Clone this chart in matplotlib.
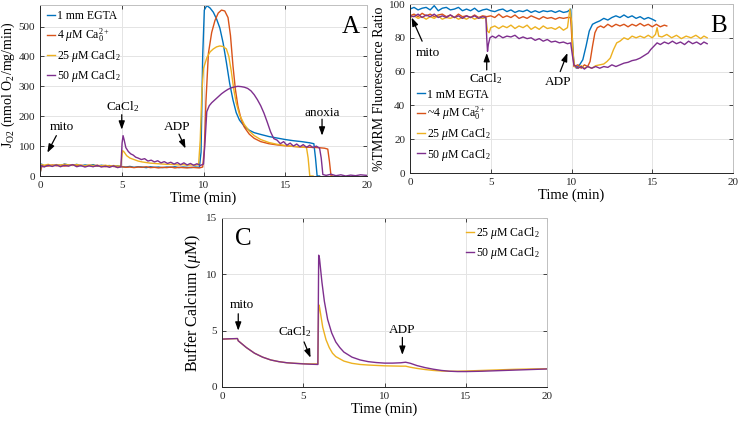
import matplotlib
matplotlib.use("Agg")
import matplotlib.pyplot as plt

plt.rcParams['font.family'] = ['Liberation Serif', 'DejaVu Serif']
plt.rcParams['mathtext.fontset'] = 'custom'
plt.rcParams['mathtext.rm'] = 'Liberation Serif'
plt.rcParams['mathtext.it'] = 'Liberation Serif:italic'

C_BLUE, C_RED, C_YEL, C_PUR = '#0072BD', '#D95319', '#EDB120', '#7E2F8E'

# ---------------- Panel A: J_O2 ----------------
A_egta = [(0,5),(0.1,40),(0.25,33),(0.5,36),(0.75,34),(1,38),(1.25,35),(1.5,40),(1.75,37),(2,36),(2.25,39),(2.5,34),(2.75,37),(3,35),(3.25,38),(3.5,33),(3.75,36),(4,34),(4.25,35),(4.5,32),(4.75,34),(5,31),(5.25,30),(5.5,32),(5.75,29),(6,31),(6.25,30),(6.5,28),(6.75,31),(7,29),(7.25,30),(7.5,28),(7.75,30),(8,29),(8.25,31),(8.5,28),(8.75,30),(9,29),(9.25,28),(9.5,30),(9.75,29),(9.85,80),(9.95,400),(10.05,555),(10.2,570),(10.4,562),(10.6,548),(10.8,525),(11.0,495),(11.2,445),(11.4,380),(11.6,310),(11.8,255),(12.0,212),(12.2,187),(12.5,166),(12.8,153),(13.1,145),(13.5,139),(14.0,132),(14.5,127),(15.0,122),(15.5,118),(16.0,115),(16.5,111),(16.75,108),(16.85,60),(16.95,0),(17.1,0)]
A_ca4 = [(0,10),(0.1,30),(0.25,35),(0.5,33),(0.75,37),(1,34),(1.25,36),(1.5,33),(1.75,35),(2,38),(2.25,34),(2.5,36),(2.75,33),(3,35),(3.25,32),(3.5,34),(3.75,33),(4,31),(4.25,34),(4.5,32),(4.75,30),(5,31),(5.25,29),(5.5,30),(5.75,28),(6,30),(6.25,29),(6.5,31),(6.75,28),(7,29),(7.25,27),(7.5,29),(7.75,28),(8,30),(8.25,27),(8.5,29),(8.75,28),(9,27),(9.25,29),(9.5,28),(9.75,27),(9.95,30),(10.05,90),(10.15,250),(10.3,410),(10.5,480),(10.7,520),(10.9,545),(11.1,555),(11.3,552),(11.5,530),(11.65,470),(11.8,370),(11.95,290),(12.1,235),(12.3,190),(12.5,163),(12.8,140),(13.1,126),(13.5,115),(14.0,108),(14.5,104),(15.0,101),(15.5,99),(16.0,97),(16.5,96),(17.0,95),(17.4,93),(17.6,90),(17.7,50),(17.8,0),(17.9,0)]
A_ca25 = [(0,15),(0.1,38),(0.25,36),(0.5,39),(0.75,35),(1,38),(1.25,36),(1.5,39),(1.75,37),(2,35),(2.25,38),(2.5,36),(2.75,34),(3,37),(3.25,35),(3.5,36),(3.75,34),(4,36),(4.25,33),(4.5,35),(4.75,33),(4.95,34),(5.05,85),(5.15,80),(5.3,68),(5.5,60),(5.75,55),(6,50),(6.25,47),(6.5,45),(6.75,43),(7,42),(7.25,41),(7.5,40),(7.75,39),(8,39),(8.25,38),(8.5,37),(8.75,38),(9,36),(9.25,37),(9.5,36),(9.7,38),(9.8,120),(9.9,280),(10.0,360),(10.2,395),(10.4,415),(10.6,425),(10.8,432),(11.0,435),(11.2,433),(11.4,425),(11.55,400),(11.7,350),(11.85,290),(12.0,245),(12.2,205),(12.5,172),(12.8,150),(13.1,135),(13.5,122),(14.0,112),(14.5,106),(15.0,102),(15.5,99),(16.0,97),(16.3,95),(16.4,60),(16.5,0),(16.7,0)]
A_ca50 = [(0,20),(0.1,35),(0.25,30),(0.5,36),(0.75,32),(1,37),(1.25,31),(1.5,36),(1.75,33),(2,38),(2.25,31),(2.5,35),(2.75,30),(3,34),(3.25,31),(3.5,36),(3.75,30),(4,33),(4.25,29),(4.5,34),(4.75,28),(4.95,31),(5.02,110),(5.08,135),(5.15,120),(5.25,95),(5.4,82),(5.55,74),(5.7,70),(5.85,63),(6,60),(6.2,55),(6.4,58),(6.6,50),(6.8,53),(7.0,47),(7.2,51),(7.4,44),(7.6,48),(7.8,42),(8.0,46),(8.2,40),(8.4,45),(8.6,38),(8.8,44),(9.0,37),(9.2,42),(9.4,36),(9.6,41),(9.8,35),(10.0,40),(10.1,120),(10.2,215),(10.35,235),(10.5,245),(10.7,255),(10.9,265),(11.1,275),(11.3,283),(11.5,290),(11.7,295),(11.9,298),(12.1,300),(12.3,299),(12.5,297),(12.7,293),(12.9,285),(13.1,272),(13.3,255),(13.5,235),(13.7,210),(13.9,180),(14.1,148),(14.3,125),(14.5,120),(14.7,108),(14.9,115),(15.1,103),(15.3,110),(15.5,100),(15.7,107),(15.9,98),(16.1,105),(16.3,96),(16.5,103),(16.7,95),(16.9,100),(17.1,93),(17.2,60),(17.3,5),(17.5,2),(17.8,6),(18.1,1),(18.4,4),(18.7,0),(19.0,3),(19.3,1),(19.6,4),(20,2)]
A_labels = ['1 mm EGTA', r'4 $\mu$M Ca$_0^{2+}$', r'25 $\mu$M CaCl$_2$', r'50 $\mu$M CaCl$_2$']

# ---------------- Panel B: TMRM ----------------
B_egta = [(0,97),(0.25,98),(0.5,96.5),(0.75,97.5),(1,98),(1.25,96.5),(1.5,99),(1.75,96),(2,97.5),(2.25,98),(2.5,96.5),(2.75,97),(3,98),(3.25,96),(3.5,97),(3.75,96),(4,97.5),(4.25,95.5),(4.5,96.5),(4.75,97),(5,96),(5.25,95.5),(5.5,96.5),(5.75,97),(6,95.5),(6.25,96.5),(6.5,95),(6.75,96),(7,95.5),(7.25,96.5),(7.5,95),(7.75,96),(8,95),(8.25,96),(8.5,95.5),(8.75,96),(9,95),(9.25,96),(9.5,95),(9.75,95.5),(9.95,97),(10.05,80),(10.15,64),(10.3,62),(10.5,64),(10.7,67),(10.9,75),(11.1,84),(11.3,88),(11.5,89),(11.75,90),(12,91.5),(12.25,90.5),(12.5,92),(12.75,93),(13,92),(13.25,93.5),(13.5,92),(13.75,93),(14,91.5),(14.25,92.5),(14.5,91),(14.75,92),(15,91),(15.2,90)]
B_ca4 = [(0,93),(0.25,94),(0.5,92.5),(0.75,94.5),(1,93),(1.25,94),(1.5,92.5),(1.75,93.5),(2,94),(2.25,92.5),(2.5,93.5),(2.75,92),(3,94),(3.25,92.5),(3.5,93),(3.75,92),(4,93.5),(4.25,92),(4.5,93),(4.75,92.5),(5,93),(5.25,92),(5.5,94),(5.75,92),(6,93),(6.25,92),(6.5,93.5),(6.75,91.5),(7,92.5),(7.25,91.5),(7.5,93),(7.75,92),(8,91),(8.25,92.5),(8.5,91.5),(8.75,92),(9,91),(9.25,92),(9.5,91.5),(9.75,92),(9.95,92),(10.05,75),(10.15,63),(10.4,64),(10.6,62),(10.8,64),(11.0,63),(11.15,66),(11.3,75),(11.45,83),(11.6,86),(11.8,87),(12,86),(12.25,88),(12.5,86.5),(12.75,88),(13,87),(13.25,88),(13.5,86.5),(13.75,88),(14,87),(14.25,88.5),(14.5,87),(14.75,88),(15,86.5),(15.25,88),(15.5,86.5),(15.75,87.5),(15.9,87)]
B_ca25 = [(0,92),(0.25,93),(0.5,91.5),(0.75,92.5),(1,91),(1.25,92.5),(1.5,91.5),(1.75,93),(2,91),(2.25,92),(2.5,91.5),(2.75,92.5),(3,91),(3.25,92),(3.5,91),(3.75,92.5),(4,91),(4.25,92),(4.5,91.5),(4.7,92),(4.8,84),(4.9,83),(5.0,86),(5.25,87),(5.5,85.5),(5.75,87),(6,86),(6.25,87.5),(6.5,85.5),(6.75,87),(7,86),(7.25,87.5),(7.5,85),(7.75,86.5),(8,85),(8.25,87),(8.5,85.5),(8.75,86),(9,85),(9.25,86.5),(9.5,84.5),(9.75,86),(9.9,97),(10.0,90),(10.1,70),(10.2,63),(10.4,62),(10.6,63.5),(10.8,62),(11.0,63),(11.25,62),(11.5,63.5),(11.75,64),(12,64.5),(12.2,66),(12.4,68),(12.6,73),(12.8,77),(13.0,78),(13.25,80),(13.5,79),(13.75,81),(14,80),(14.25,81),(14.5,80),(14.75,81.5),(15,80),(15.2,82),(15.3,86),(15.4,81),(15.6,80.5),(15.9,82),(16.2,80),(16.5,81.5),(16.8,79.5),(17.1,81),(17.4,80),(17.7,81.5),(18.0,79.5),(18.2,81),(18.4,80)]
B_ca50 = [(0,93),(0.25,92.5),(0.5,94),(0.75,92),(1,93.5),(1.25,92.5),(1.5,94),(1.75,92),(2,93),(2.25,92),(2.5,93.5),(2.75,92),(3,93),(3.25,91.5),(3.5,93),(3.75,92),(4,93),(4.25,91.5),(4.5,92.5),(4.7,92),(4.75,80),(4.8,72),(4.85,76),(4.95,80),(5.1,81),(5.3,80),(5.5,81.5),(5.75,80),(6,81),(6.25,80.5),(6.5,81.5),(6.75,79.5),(7,80.5),(7.25,79.5),(7.5,80),(7.75,78.5),(8,79.5),(8.25,78),(8.5,79),(8.75,77.5),(9,78),(9.25,77),(9.5,77.5),(9.75,76.5),(9.95,77),(10.05,70),(10.15,64),(10.4,62),(10.6,63),(10.8,61.5),(11.0,63),(11.25,62),(11.5,63),(11.75,62),(12,63),(12.25,62.5),(12.5,64),(12.75,63),(13,64),(13.25,65),(13.5,65.5),(13.75,66.5),(14,67),(14.25,68),(14.5,69.5),(14.75,71),(14.9,73),(15.1,75),(15.3,77),(15.5,76),(15.75,77.5),(16,76.5),(16.25,78),(16.5,76.5),(16.75,77.5),(17,76),(17.25,78),(17.5,76.5),(17.75,77.5),(18,76),(18.2,77.5),(18.4,76.5)]
B_labels = ['1 mM EGTA', r'~4 $\mu$M Ca$_0^{2+}$', r'25 $\mu$M CaCl$_2$', r'50 $\mu$M CaCl$_2$']

# ---------------- Panel C: buffer calcium ----------------
C_ca25 = [(0,4.25),(0.5,4.28),(0.95,4.3),(1.0,4.1),(1.25,3.8),(1.5,3.5),(2,3.0),(2.5,2.65),(3,2.4),(3.5,2.25),(4,2.15),(4.5,2.1),(5,2.07),(5.5,2.05),(5.9,2.05),(5.95,7.3),(6.0,7.1),(6.2,5.3),(6.4,4.2),(6.6,3.5),(6.8,3.0),(7.0,2.7),(7.5,2.3),(8,2.1),(8.5,2.0),(9,1.95),(10,1.88),(11,1.85),(11.3,1.85),(11.6,1.75),(12,1.65),(12.5,1.55),(13,1.47),(13.5,1.42),(14,1.4),(14.5,1.4),(15,1.42),(16,1.47),(17,1.52),(18,1.57),(19,1.6),(20,1.62)]
C_ca50 = [(0,4.25),(0.5,4.28),(0.95,4.3),(1.0,4.1),(1.25,3.8),(1.5,3.5),(2,3.0),(2.5,2.65),(3,2.4),(3.5,2.25),(4,2.15),(4.5,2.1),(5,2.05),(5.5,2.02),(5.9,2.0),(5.95,11.7),(6.0,11.4),(6.15,9.3),(6.3,7.6),(6.5,6.0),(6.75,4.8),(7.0,4.0),(7.25,3.5),(7.5,3.1),(8,2.65),(8.5,2.4),(9,2.25),(9.5,2.17),(10,2.12),(10.5,2.12),(11,2.15),(11.3,2.2),(11.6,2.1),(12,1.9),(12.5,1.72),(13,1.58),(13.5,1.47),(14,1.4),(14.5,1.37),(15,1.37),(16,1.4),(17,1.45),(18,1.5),(19,1.55),(20,1.6)]
C_labels = [r'25 $\mu$M CaCl$_2$', r'50 $\mu$M CaCl$_2$']

x_ticks = [0, 5, 10, 15, 20]


def xy(pairs):
    return [p[0] for p in pairs], [p[1] for p in pairs]


def style(ax, yticks, ylim):
    ax.set_xlim(0, 20)
    ax.set_ylim(*ylim)
    ax.set_xticks(x_ticks)
    ax.set_yticks(yticks)
    ax.grid(True, color='#e4e4e4', lw=0.7)
    ax.set_axisbelow(True)
    ax.tick_params(direction='in', length=3, width=0.6, labelsize=8, top=True, right=True,
                   colors='#262626', pad=3.5)
    for s in ['left', 'bottom']:
        ax.spines[s].set_color('#262626')
        ax.spines[s].set_linewidth(0.7)
    for s in ['top', 'right']:
        ax.spines[s].set_color('#c0c0c0')
        ax.spines[s].set_linewidth(0.7)
    ax.set_xlabel('Time (min)', fontsize=10.5, labelpad=1.5)


def arrow(ax, xt, yt, xh, yh):
    ax.annotate('', xy=(xh, yh), xytext=(xt, yt),
                arrowprops=dict(arrowstyle='-|>,head_width=0.18,head_length=0.5',
                                color='black', lw=0.9, shrinkA=0, shrinkB=0))


def legend(ax, loc, bbox):
    ax.legend(loc=loc, bbox_to_anchor=bbox, frameon=False, fontsize=8.5, handlelength=0.7,
              handletextpad=0.15, borderaxespad=0.2, labelspacing=0.35)


ANN = 9.5
LET = 18

fig = plt.figure(figsize=(7.4, 4.21), dpi=100)

# Panel A
axA = fig.add_axes([40/740, 1-176/421, 327/740, 171/421])
for d, c, lab in zip([A_egta, A_ca4, A_ca25, A_ca50], [C_BLUE, C_RED, C_YEL, C_PUR], A_labels):
    x, y = xy(d)
    axA.plot(x, y, color=c, lw=1.0, label=lab)
style(axA, [0, 100, 200, 300, 400, 500], (0, 572))
axA.set_ylabel(r'J$_{\rm O2}$ (nmol O$_2$/mg/min)', fontsize=10)
axA.yaxis.set_label_coords(-0.071, 0.53)
legend(axA, 'upper left', (0.0, 1.01))
axA.text(19.0, 500, 'A', fontsize=LET, ha='center', va='center')
axA.text(1.35, 164, 'mito', fontsize=ANN, ha='center', va='center')
arrow(axA, 1.0, 135, 0.45, 78)
axA.text(5.05, 232, r'CaCl$_2$', fontsize=ANN, ha='center', va='center')
arrow(axA, 5.0, 205, 5.0, 155)
axA.text(8.4, 164, 'ADP', fontsize=ANN, ha='center', va='center')
arrow(axA, 8.5, 140, 8.9, 92)
axA.text(17.25, 210, 'anoxia', fontsize=ANN, ha='center', va='center')
arrow(axA, 17.25, 190, 17.25, 135)

# Panel B
axB = fig.add_axes([410/740, 1-173/421, 323/740, 169/421])
for d, c, lab in zip([B_egta, B_ca4, B_ca25, B_ca50], [C_BLUE, C_RED, C_YEL, C_PUR], B_labels):
    x, y = xy(d)
    axB.plot(x, y, color=c, lw=1.0, label=lab)
style(axB, [0, 20, 40, 60, 80, 100], (0, 100))
axB.set_ylabel('%TMRM Fluorescence Ratio', fontsize=10)
axB.yaxis.set_label_coords(-0.073, 0.5)
legend(axB, 'lower left', (0.0, 0.02))
axB.text(19.1, 87, 'B', fontsize=LET, ha='center', va='center')
axB.text(1.1, 71, 'mito', fontsize=ANN, ha='center', va='center')
arrow(axB, 0.75, 78, 0.1, 92)
axB.text(4.7, 56, r'CaCl$_2$', fontsize=ANN, ha='center', va='center')
arrow(axB, 4.75, 61, 4.75, 71)
axB.text(9.2, 54, 'ADP', fontsize=ANN, ha='center', va='center')
arrow(axB, 9.3, 60, 9.75, 71)

# Panel C
axC = fig.add_axes([222/740, 1-387/421, 325/740, 169/421])
for d, c, lab in zip([C_ca25, C_ca50], [C_YEL, C_PUR], C_labels):
    x, y = xy(d)
    axC.plot(x, y, color=c, lw=1.0, label=lab)
style(axC, [0, 5, 10, 15], (0, 15))
axC.set_ylabel(r'Buffer Calcium ($\mu$M)', fontsize=11.5)
axC.yaxis.set_label_coords(-0.057, 0.5)
legend(axC, 'upper right', (1.0, 1.0))
axC.text(1.3, 13.1, 'C', fontsize=LET, ha='center', va='center')
axC.text(1.25, 7.3, 'mito', fontsize=ANN, ha='center', va='center')
arrow(axC, 1.0, 6.5, 1.0, 5.0)
axC.text(4.5, 4.9, r'CaCl$_2$', fontsize=ANN, ha='center', va='center')
arrow(axC, 5.05, 4.0, 5.45, 2.6)
axC.text(11.1, 5.1, 'ADP', fontsize=ANN, ha='center', va='center')
arrow(axC, 11.1, 4.4, 11.1, 2.85)

fig.savefig('out.png', dpi=100)
